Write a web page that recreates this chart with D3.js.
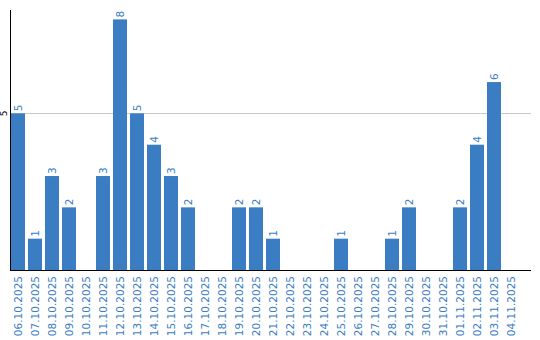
<!DOCTYPE html>
<html>
<head>
<meta charset="utf-8">
<script src="https://cdn.jsdelivr.net/npm/d3@7"></script>
<style>
  body { margin: 0; background: #fff; }
  svg { display: block; font-family: "DejaVu Sans", sans-serif; }
</style>
</head>
<body>
<svg width="540" height="340"></svg>
<script>
// daily counts, 06.10.2025 - 04.11.2025
var dates = ["06.10.2025", "07.10.2025", "08.10.2025", "09.10.2025", "10.10.2025",
  "11.10.2025", "12.10.2025", "13.10.2025", "14.10.2025", "15.10.2025",
  "16.10.2025", "17.10.2025", "18.10.2025", "19.10.2025", "20.10.2025",
  "21.10.2025", "22.10.2025", "23.10.2025", "24.10.2025", "25.10.2025",
  "26.10.2025", "27.10.2025", "28.10.2025", "29.10.2025", "30.10.2025",
  "31.10.2025", "01.11.2025", "02.11.2025", "03.11.2025", "04.11.2025"];
var counts = [5, 1, 3, 2, 0, 3, 8, 5, 4, 3, 2, 0, 0, 2, 2, 1, 0, 0, 0, 1,
  0, 0, 1, 2, 0, 0, 2, 4, 6, 0];
var yTicks = [5];

var svg = d3.select("svg");
var blue = "#3a7dc3";

var x0 = 10.5, axisEnd = 531;
var yTop = 10, yBase = 270;

// step of 17px, 3px gap between bars
var x = d3.scaleBand()
    .domain(dates)
    .range([11, 518])
    .paddingInner(3 / 17)
    .paddingOuter(0);

var y = d3.scaleLinear()
    .domain([0, 8.3])
    .range([yBase, yTop]);

// grid line
svg.append("g").selectAll("line")
    .data(yTicks)
  .enter().append("line")
    .attr("x1", x0).attr("x2", axisEnd)
    .attr("y1", function(d) { return Math.round(y(d)) + 0.5; })
    .attr("y2", function(d) { return Math.round(y(d)) + 0.5; })
    .attr("stroke", "#c8c8c8");

// bars
svg.append("g").selectAll("rect")
    .data(counts)
  .enter().append("rect")
    .attr("x", function(d, i) { return x(dates[i]); })
    .attr("y", function(d) { return y(d); })
    .attr("width", x.bandwidth())
    .attr("height", function(d) { return yBase - y(d); })
    .attr("fill", blue);

// value labels above the bars
var vl = svg.append("g");
counts.forEach(function(d, i) {
  if (!d) return;
  vl.append("text")
    .attr("transform", "translate(" + (x(dates[i]) + x.bandwidth() / 2 + 4) + "," + (y(d) - 2) + ") rotate(-90)")
    .attr("font-size", 10.5)
    .attr("fill", blue)
    .text(d);
});

// y tick labels
svg.append("g").selectAll("text")
    .data(yTicks)
  .enter().append("text")
    .attr("transform", function(d) { return "translate(7," + y(d) + ") rotate(-90)"; })
    .attr("text-anchor", "middle")
    .attr("font-size", 9)
    .attr("fill", "#000")
    .text(function(d) { return d; });

// x labels
svg.append("g").selectAll("text")
    .data(dates)
  .enter().append("text")
    .attr("transform", function(d) {
      return "translate(" + (x(d) + x.bandwidth() / 2 + 4) + "," + (yBase + 6) + ") rotate(-90)";
    })
    .attr("text-anchor", "end")
    .attr("font-size", 10.5)
    .attr("fill", blue)
    .text(function(d) { return d; });

// axes
svg.append("line")
    .attr("x1", x0).attr("x2", x0)
    .attr("y1", yTop).attr("y2", yBase + 1)
    .attr("stroke", "#000");
svg.append("line")
    .attr("x1", x0).attr("x2", axisEnd)
    .attr("y1", yBase + 0.5).attr("y2", yBase + 0.5)
    .attr("stroke", "#000");
</script>
</body>
</html>
